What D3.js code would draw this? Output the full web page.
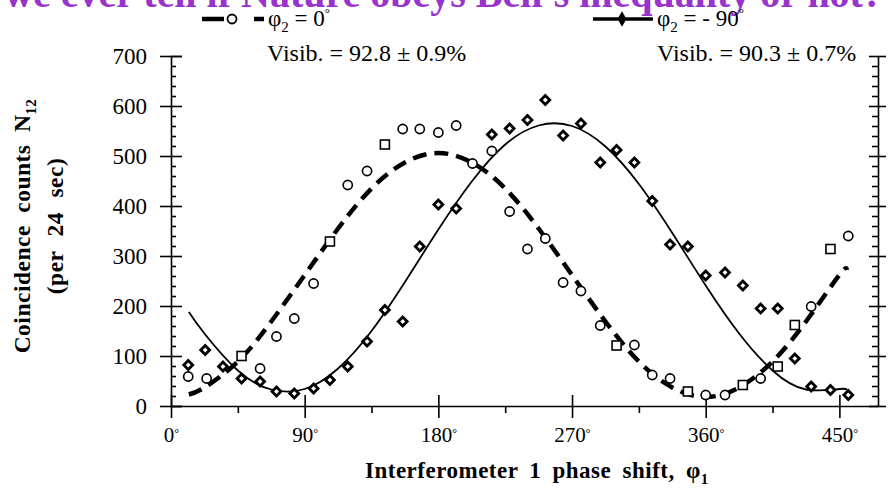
<!DOCTYPE html>
<html>
<head>
<meta charset="utf-8">
<script src="https://cdn.jsdelivr.net/npm/d3@7"></script>
<style>
  body { margin: 0; background: #fff; }
  svg { display: block; font-family: "Liberation Serif", "Times New Roman", serif; }
</style>
</head>
<body>
<div id="chart"></div>
<script>
// phase shift phi1 (degrees) and coincidence counts
const circlePhase  = [11.6, 24, 60, 71, 83, 96, 119, 132, 156, 167.5, 180, 192, 203, 216, 228, 240, 252, 264, 276, 289, 312, 324, 336, 360, 373, 397, 431, 456];
const circleCounts = [59, 55, 75, 139, 175, 245, 442, 470, 554, 554, 547, 561, 485, 510, 389, 314, 335, 247, 230, 161, 122, 62, 55, 22, 22, 55, 199, 340];

const squarePhase  = [47.5, 107, 144, 300, 348, 385, 408.5, 420, 444];
const squareCounts = [100, 329, 523, 121, 29, 42, 79, 162, 314];

const diamondPhase  = [11.6, 23, 35, 47.5, 60, 71, 83, 96, 107, 119, 132, 144, 156, 167.5, 180, 192, 216, 228, 240, 252, 264, 276, 289, 300, 312, 324, 336, 348, 360, 373, 385, 397, 408.5, 420, 431, 444, 456];
const diamondCounts = [82, 112, 79, 55, 49, 29, 25, 35, 52, 79, 129, 192, 169, 319, 403, 395, 543, 555, 572, 612, 541, 565, 487, 512, 487, 410, 323, 319, 261, 267, 241, 195, 195, 95, 39, 32, 22];

// fitted curves, read at regular phase steps
const fitPhase   = [12, 22.5, 45, 67.5, 90, 112.5, 135, 157.5, 180, 202.5, 225, 247.5, 270, 292.5, 315, 337.5, 360, 382.5, 405, 427.5, 450, 455];
const fitZero    = [23, 37, 89, 169, 262, 355, 435, 487, 506, 487, 435, 355, 262, 169, 89, 37, 18, 37, 89, 169, 262, 272];
const fitMinus90 = [188, 145, 71, 33, 34, 75, 150, 248, 353, 449, 523, 561, 560, 519, 444, 346, 241, 145, 71, 33, 34, 32];

const xTicks = [0, 90, 180, 270, 360, 450];
const xMinor = [45, 135, 225, 315, 405];
const yTicks = [0, 100, 200, 300, 400, 500, 600, 700];
const yMinor = d3.range(0, 701, 20).filter(v => v % 100 !== 0);

const width = 888, height = 490;
const plotLeft = 171, plotRight = 878, plotTop = 56, plotBottom = 406;

const svg = d3.select("#chart").append("svg")
    .attr("width", width)
    .attr("height", height);

const x = d3.scaleLinear().domain([0, 476]).range([plotLeft, plotRight]);
const y = d3.scaleLinear().domain([0, 700]).range([plotBottom, plotTop]);

// Title (cut off at the top of the picture)
svg.append("text")
    .attr("x", -77)
    .attr("y", 7)
    .attr("font-size", 40)
    .attr("font-weight", "bold")
    .attr("fill", "#9933cc")
    .text("Can we ever tell if Nature obeys Bell's inequality or not?");

// Axes
const axisStyle = (g, size) => {
    g.selectAll("path, line").attr("stroke", "#000").attr("stroke-width", 1.6);
    g.selectAll("text").attr("font-size", size || 21).attr("fill", "#000")
        .attr("font-family", "Liberation Serif, serif");
};

svg.append("g")
    .attr("transform", `translate(${plotLeft},0)`)
    .call(d3.axisLeft(y).tickValues(yTicks).tickSize(11).tickSizeOuter(0).tickPadding(13))
    .call(axisStyle, 23)
    .call(g => g.select(".domain").remove());
svg.append("g")
    .attr("transform", `translate(${plotLeft},0)`)
    .call(d3.axisRight(y).tickValues(yTicks).tickSize(11).tickFormat(""))
    .call(axisStyle);
svg.append("g")
    .attr("transform", `translate(${plotLeft},0)`)
    .call(d3.axisRight(y).tickValues(yMinor).tickSize(5).tickFormat("").tickSizeOuter(0))
    .call(axisStyle)
    .call(g => g.select(".domain").remove());

// right axis
svg.append("g")
    .attr("transform", `translate(${plotRight},0)`)
    .call(d3.axisLeft(y).tickValues(yTicks).tickSize(9).tickFormat("").tickSizeOuter(0))
    .call(axisStyle);
svg.append("g")
    .attr("transform", `translate(${plotRight},0)`)
    .call(d3.axisRight(y).tickValues(yTicks).tickSize(8).tickFormat("").tickSizeOuter(0))
    .call(axisStyle)
    .call(g => g.select(".domain").remove());
svg.append("g")
    .attr("transform", `translate(${plotRight},0)`)
    .call(d3.axisLeft(y).tickValues(yMinor).tickSize(6).tickFormat("").tickSizeOuter(0))
    .call(axisStyle)
    .call(g => g.select(".domain").remove());

// bottom axis
svg.append("g")
    .attr("transform", `translate(0,${plotBottom})`)
    .call(d3.axisBottom(x).tickValues(xTicks).tickSize(12).tickSizeOuter(0).tickPadding(9))
    .call(axisStyle, 21)
    .call(g => g.selectAll(".tick text").each(function (d) {
        const t = d3.select(this).text(d);
        t.append("tspan").attr("dy", "-0.45em").attr("font-size", 12).text("°");
    }));
svg.append("g")
    .attr("transform", `translate(0,${plotBottom})`)
    .call(d3.axisTop(x).tickValues(xTicks).tickSize(11).tickFormat("").tickSizeOuter(0))
    .call(axisStyle)
    .call(g => g.select(".domain").remove());
svg.append("g")
    .attr("transform", `translate(0,${plotBottom})`)
    .call(d3.axisBottom(x).tickValues(xMinor).tickSize(7).tickFormat("").tickSizeOuter(0))
    .call(axisStyle)
    .call(g => g.select(".domain").remove());

// Fit curves
const line = d3.line()
    .x((d, i) => x(fitPhase[i]))
    .y(d => y(d))
    .curve(d3.curveNatural);

svg.append("path")
    .datum(fitZero)
    .attr("d", line)
    .attr("fill", "none")
    .attr("stroke", "#000")
    .attr("stroke-width", 4.5)
    .attr("stroke-dasharray", "14,8");

svg.append("path")
    .datum(fitMinus90)
    .attr("d", line)
    .attr("fill", "none")
    .attr("stroke", "#000")
    .attr("stroke-width", 1.8);

// Markers
const diamond = d3.symbol().type(d3.symbolDiamond2).size(50);

svg.append("g").selectAll("path")
    .data(diamondPhase)
    .join("path")
    .attr("transform", (d, i) => `translate(${x(d)},${y(diamondCounts[i])})`)
    .attr("d", diamond)
    .attr("fill", "#fff")
    .attr("stroke", "#000")
    .attr("stroke-width", 2.8);

svg.append("g").selectAll("circle")
    .data(circlePhase)
    .join("circle")
    .attr("cx", d => x(d))
    .attr("cy", (d, i) => y(circleCounts[i]))
    .attr("r", 4.6)
    .attr("fill", "#fff")
    .attr("stroke", "#000")
    .attr("stroke-width", 1.6);

svg.append("g").selectAll("rect")
    .data(squarePhase)
    .join("rect")
    .attr("x", d => x(d) - 4.5)
    .attr("y", (d, i) => y(squareCounts[i]) - 4.5)
    .attr("width", 9)
    .attr("height", 9)
    .attr("fill", "#fff")
    .attr("stroke", "#000")
    .attr("stroke-width", 1.6);

// Visibility labels
svg.append("text").attr("x", 267).attr("y", 61).attr("font-size", 24).text("Visib. = 92.8 ± 0.9%");
svg.append("text").attr("x", 657).attr("y", 61).attr("font-size", 24).text("Visib. = 90.3 ± 0.7%");

// Legend
const leg = svg.append("g");
leg.append("line").attr("x1", 202).attr("x2", 264).attr("y1", 19).attr("y2", 19)
    .attr("stroke", "#000").attr("stroke-width", 4.5).attr("stroke-dasharray", "22,30");
leg.append("circle").attr("cx", 232).attr("cy", 19).attr("r", 4.5)
    .attr("fill", "#fff").attr("stroke", "#000").attr("stroke-width", 1.8);
const t1 = leg.append("text").attr("x", 268).attr("y", 26).attr("font-size", 23);
t1.append("tspan").text("φ");
t1.append("tspan").attr("dy", 6).attr("font-size", 15).text("2");
t1.append("tspan").attr("dy", -6).text(" = 0");
t1.append("tspan").attr("dy", -9).attr("font-size", 13).text("°");

leg.append("line").attr("x1", 593).attr("x2", 653).attr("y1", 19).attr("y2", 19)
    .attr("stroke", "#000").attr("stroke-width", 3.5);
leg.append("path").attr("transform", "translate(622,19)")
    .attr("d", d3.symbol().type(d3.symbolDiamond).size(70)).attr("fill", "#000");
const t2 = leg.append("text").attr("x", 657).attr("y", 26).attr("font-size", 23);
t2.append("tspan").text("φ");
t2.append("tspan").attr("dy", 6).attr("font-size", 15).text("2");
t2.append("tspan").attr("dy", -6).text(" = - 90");
t2.append("tspan").attr("dy", -9).attr("font-size", 13).text("°");

// Axis titles
const xt = svg.append("text")
    .attr("x", 365).attr("y", 478)
    .attr("font-size", 23).attr("font-weight", "bold")
    .attr("letter-spacing", 0.5)
    .attr("word-spacing", 5);
xt.append("tspan").text("Interferometer 1 phase shift, φ");
xt.append("tspan").attr("dy", 6).attr("font-size", 15).text("1");

const yt = svg.append("g").attr("transform", "translate(30,226) rotate(-90)");
const yt1 = yt.append("text").attr("text-anchor", "middle")
    .attr("font-size", 23.5).attr("font-weight", "bold")
    .attr("letter-spacing", 0.5).attr("word-spacing", 6);
yt1.append("tspan").text("Coincidence counts N");
yt1.append("tspan").attr("dy", 6).attr("font-size", 15).text("12");
yt.append("text").attr("text-anchor", "middle").attr("y", 33)
    .attr("font-size", 23.5).attr("font-weight", "bold")
    .attr("letter-spacing", 0.5).attr("word-spacing", 8)
    .text("(per 24 sec)");
</script>
</body>
</html>
